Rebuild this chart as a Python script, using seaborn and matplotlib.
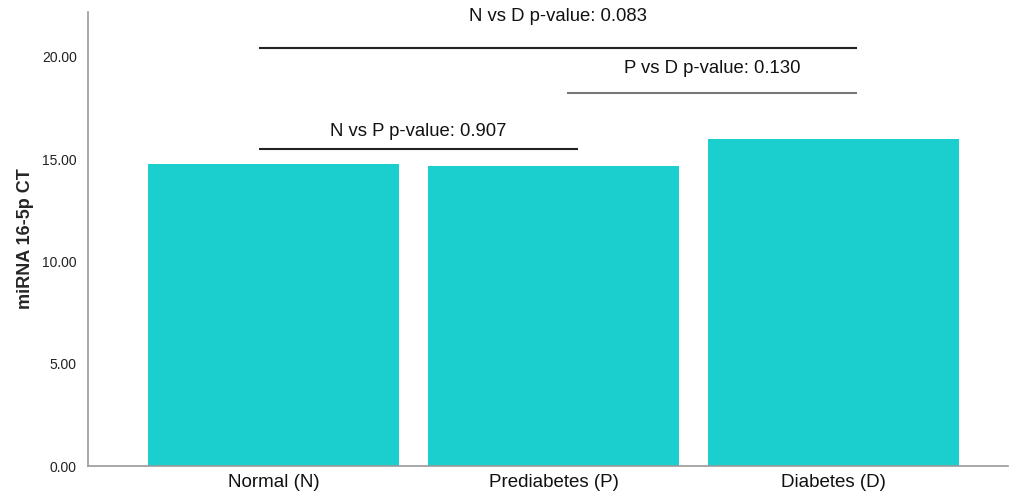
import matplotlib
matplotlib.use("Agg")
import matplotlib.pyplot as plt
import seaborn as sns
import pandas as pd

categories = ["Normal (N)", "Prediabetes (P)", "Diabetes (D)"]
values = [14.77, 14.67, 15.99]
y_ticks = [0, 5, 10, 15, 20]
comparisons = ["N vs P p-value: 0.907", "P vs D p-value: 0.130", "N vs D p-value: 0.083"]
comp_heights = [15.5, 18.24, 20.44]
comp_spans = [(-0.052, 1.0875), (1.048, 2.084), (-0.052, 2.084)]
comp_text_y = [16.38, 19.46, 21.96]
comp_colors = ["#222222", "#777777", "#222222"]

sns.set_style("white")
plt.rcParams['font.family'] = ['Liberation Sans', 'DejaVu Sans']

df = pd.DataFrame({"group": categories, "ct": values})
fig = plt.figure(figsize=(10.11, 4.93), dpi=100)
ax = fig.add_axes([88/1011, 1-466/493, (1008-88)/1011, (466-12)/493])
sns.barplot(data=df, x="group", y="ct", color="#1ccfcf", saturation=1,
            width=0.896, ax=ax, errorbar=None)
for p in ax.patches:
    p.set_edgecolor("none")

ax.set_xlim(-0.6625, 2.623)
ax.set_ylim(0, 22.2)
ax.set_yticks(y_ticks)
ax.set_yticklabels([f"{t:.2f}" for t in y_ticks], fontsize=10, color="#222222")
ax.tick_params(axis="x", labelsize=13.5, length=0, pad=6, colors="#111111")
ax.tick_params(axis="y", length=0, pad=8)
ax.set_xlabel("")
ax.set_ylabel("miRNA 16-5p CT", fontsize=13, fontweight="bold", labelpad=6)
for s in ["top", "right"]:
    ax.spines[s].set_visible(False)
for s in ["left", "bottom"]:
    ax.spines[s].set_color("#999999")
    ax.spines[s].set_linewidth(1.2)

for label, h, (x0, x1), ty, c in zip(comparisons, comp_heights, comp_spans, comp_text_y, comp_colors):
    ax.plot([x0, x1], [h, h], color=c, lw=1.5, solid_capstyle="butt")
    ax.text((x0 + x1) / 2, ty, label, ha="center", va="center", fontsize=13.3, color="#111111")

fig.savefig("out.png", dpi=100)
